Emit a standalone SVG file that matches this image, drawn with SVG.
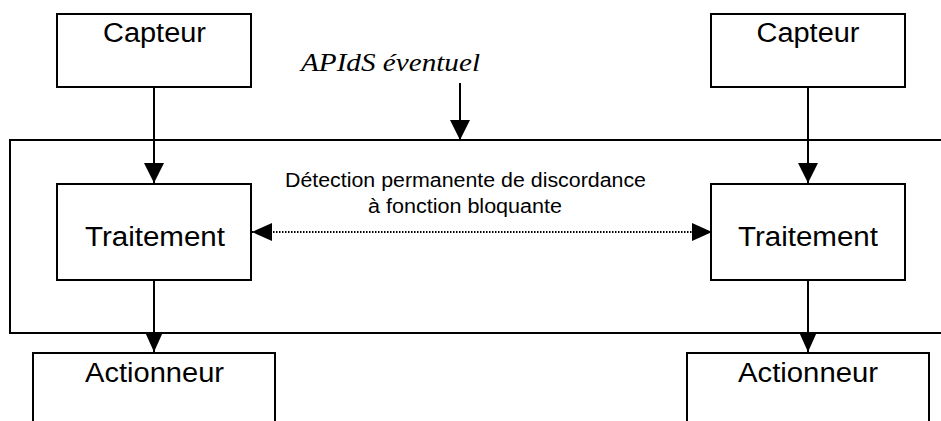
<svg xmlns="http://www.w3.org/2000/svg" width="941" height="421" viewBox="0 0 941 421">
<defs>
<style>
.box{fill:#fff;stroke:#000;stroke-width:2}
.frame{fill:none;stroke:#000;stroke-width:2}
.lbl{font-family:"Liberation Sans",Arial,sans-serif;fill:#000;text-anchor:middle}
.big{font-size:27px}
.mid{font-size:20px}
.it{font-family:"Liberation Serif","Times New Roman",serif;font-style:italic;font-size:25px;fill:#000}
.con{stroke:#000;stroke-width:2;fill:none}
.dot{stroke:#000;stroke-width:2;fill:none;stroke-dasharray:1.5 1.5}
</style>
<marker id="ah" viewBox="0 0 20 20" refX="20" refY="10" markerWidth="20" markerHeight="20" markerUnits="userSpaceOnUse" orient="auto-start-reverse">
<path d="M0,0 L20,10 L0,20 z" fill="#000" stroke="none"/>
</marker>
<marker id="ahs" viewBox="0 0 20 18" refX="20" refY="9" markerWidth="20" markerHeight="18" markerUnits="userSpaceOnUse" orient="auto-start-reverse">
<path d="M0,0 L20,9 L0,18 z" fill="#000" stroke="none"/>
</marker>
</defs>
<rect width="941" height="421" fill="#fff"/>
<g id="apids">
<rect class="frame" x="10" y="140" width="945" height="193"/>
<text class="it" x="301" y="71" textLength="179" lengthAdjust="spacingAndGlyphs">APIdS éventuel</text>
</g>
<g id="capteur-g">
<rect class="box" x="57" y="14" width="194" height="73"/>
<text class="lbl big" x="154.5" y="42" textLength="103" lengthAdjust="spacingAndGlyphs">Capteur</text>
</g>
<g id="capteur-d">
<rect class="box" x="711" y="14" width="194" height="73"/>
<text class="lbl big" x="808" y="42" textLength="103" lengthAdjust="spacingAndGlyphs">Capteur</text>
</g>
<g id="traitement-g">
<rect class="box" x="57" y="184" width="194" height="96"/>
<text class="lbl big" x="155" y="246" textLength="140" lengthAdjust="spacingAndGlyphs">Traitement</text>
</g>
<g id="traitement-d">
<rect class="box" x="711" y="184" width="194" height="96"/>
<text class="lbl big" x="808" y="246" textLength="140" lengthAdjust="spacingAndGlyphs">Traitement</text>
</g>
<g id="actionneur-g">
<rect class="box" x="33" y="353" width="242" height="100"/>
<text class="lbl big" x="154.5" y="382" textLength="139" lengthAdjust="spacingAndGlyphs">Actionneur</text>
</g>
<g id="actionneur-d">
<rect class="box" x="687" y="353" width="242" height="100"/>
<text class="lbl big" x="808" y="382" textLength="140" lengthAdjust="spacingAndGlyphs">Actionneur</text>
</g>
<g id="label-discordance">
<text class="lbl mid" x="465.5" y="187" textLength="361" lengthAdjust="spacingAndGlyphs">Détection permanente de discordance</text>
<text class="lbl mid" x="465" y="213" textLength="194" lengthAdjust="spacingAndGlyphs">à fonction bloquante</text>
</g>
<g id="connectors">
<line class="con" x1="154" y1="87" x2="154" y2="183" marker-end="url(#ah)"/>
<line class="con" x1="808" y1="87" x2="808" y2="183" marker-end="url(#ah)"/>
<line class="con" x1="154" y1="280" x2="154" y2="352" marker-end="url(#ahs)"/>
<line class="con" x1="808" y1="280" x2="808" y2="352" marker-end="url(#ahs)"/>
<line class="con" x1="460" y1="83" x2="460" y2="140" marker-end="url(#ah)"/>
<line class="dot" x1="252" y1="232" x2="712" y2="232" marker-start="url(#ahs)" marker-end="url(#ahs)"/>
</g>
</svg>
